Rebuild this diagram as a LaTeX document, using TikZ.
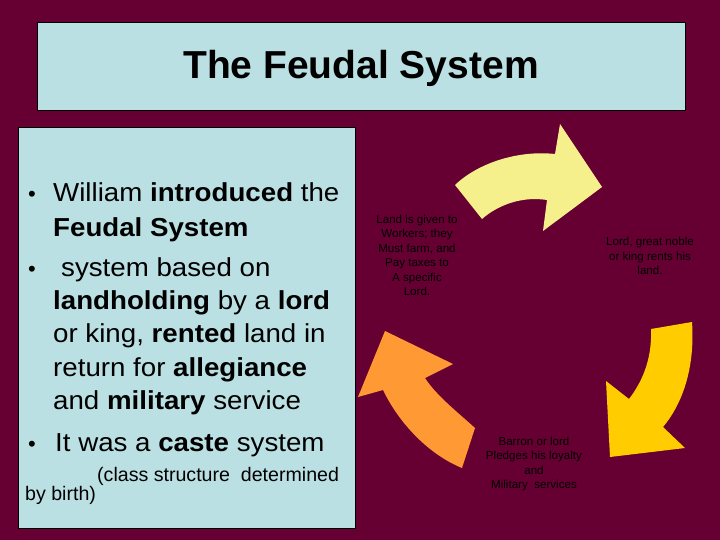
\documentclass[tikz,border=0pt]{standalone}
\usepackage{fontspec}
\setmainfont{Liberation Sans}
\definecolor{bgmaroon}{RGB}{102,0,51}
\definecolor{boxblue}{RGB}{187,224,227}
\definecolor{arrowyellow}{RGB}{245,240,140}
\definecolor{arrowgold}{RGB}{255,204,0}
\definecolor{arroworange}{RGB}{255,153,51}
\newcommand{\widetext}[1]{\scalebox{1.065}[1]{#1}}
\tikzset{
  panel/.style={draw=black, line width=0.8pt, fill=boxblue},
  bline/.style={anchor=base west, inner sep=0pt, font=\fontsize{26}{30}\selectfont},
  bdot/.style={anchor=base, inner sep=0pt, font=\fontsize{22}{30}\selectfont},
  small/.style={align=center, inner sep=0pt, text=black, font=\fontsize{11.6}{14.5}\selectfont},
}
\begin{document}
\begin{tikzpicture}[x=1pt,y=-1pt]
\useasboundingbox (0,0) rectangle (720,540);
\fill[bgmaroon] (0,0) rectangle (720,540);
% title
\draw[panel] (37,22) rectangle (685,110);
\node[font=\fontsize{39}{44}\selectfont\bfseries, inner sep=0pt] (title) at (361,68) {The Feudal System};
% left panel
\draw[panel] (18,127) rectangle (355,528);
\node[bdot] (d1) at (32,202) {•};
\node[bline] (l1) at (53,202) {\widetext{William \textbf{introduced} the}};
\node[bline] (l2) at (53,236.5) {\widetext{\textbf{Feudal System}}};
\node[bdot] (d2) at (32,276) {•};
\node[bline] (l3) at (61,276) {\widetext{system based on}};
\node[bline] (l4) at (53,309.5) {\widetext{\textbf{landholding} by a \textbf{lord}}};
\node[bline] (l5) at (53,342.5) {\widetext{or king, \textbf{rented} land in}};
\node[bline] (l6) at (53,376) {\widetext{return for \textbf{allegiance}}};
\node[bline] (l7) at (53,409) {\widetext{and \textbf{military} service}};
\node[bdot] (d3) at (32,451.5) {•};
\node[bline] (l8) at (55,451.5) {\widetext{It was a \textbf{caste} system}};
\node[anchor=base west, inner sep=0pt, font=\fontsize{19.6}{22}\selectfont] (l9) at (97,481) {(class structure\ \ determined};
\node[anchor=base west, inner sep=0pt, font=\fontsize{19.6}{22}\selectfont] (l10) at (25,500.5) {by birth)};
% arrows
\fill[arrowyellow] (455,185) .. controls (478,163) and (518,150) .. (555,154)
  -- (560,124) -- (602,187) -- (543,231) -- (547,200)
  .. controls (522,196) and (498,205) .. (482,219) -- cycle;
\fill[arrowgold] (692,322) .. controls (695,365) and (684,402) .. (663,427)
  -- (685,448) -- (610,457) -- (606,381) -- (629,399)
  .. controls (645,378) and (652,355) .. (651,329) -- cycle;
\fill[arroworange] (475,428) .. controls (455,410) and (436,395) .. (425,378)
  -- (453,364) -- (385,331) -- (358,397) -- (383,390)
  .. controls (400,425) and (430,455) .. (462,468) -- cycle;
% labels
\node[small] (lab1) at (417,255.5) {Land is given to\\Workers; they\\Must farm, and\\Pay taxes to\\A specific\\Lord.};
\node[small] (lab2) at (650,256) {Lord, great noble\\or king rents his\\land.};
\node[small] (lab3) at (534,464) {Barron or lord\\Pledges his loyalty\\and\\Military\ \ services};
\end{tikzpicture}
\end{document}
